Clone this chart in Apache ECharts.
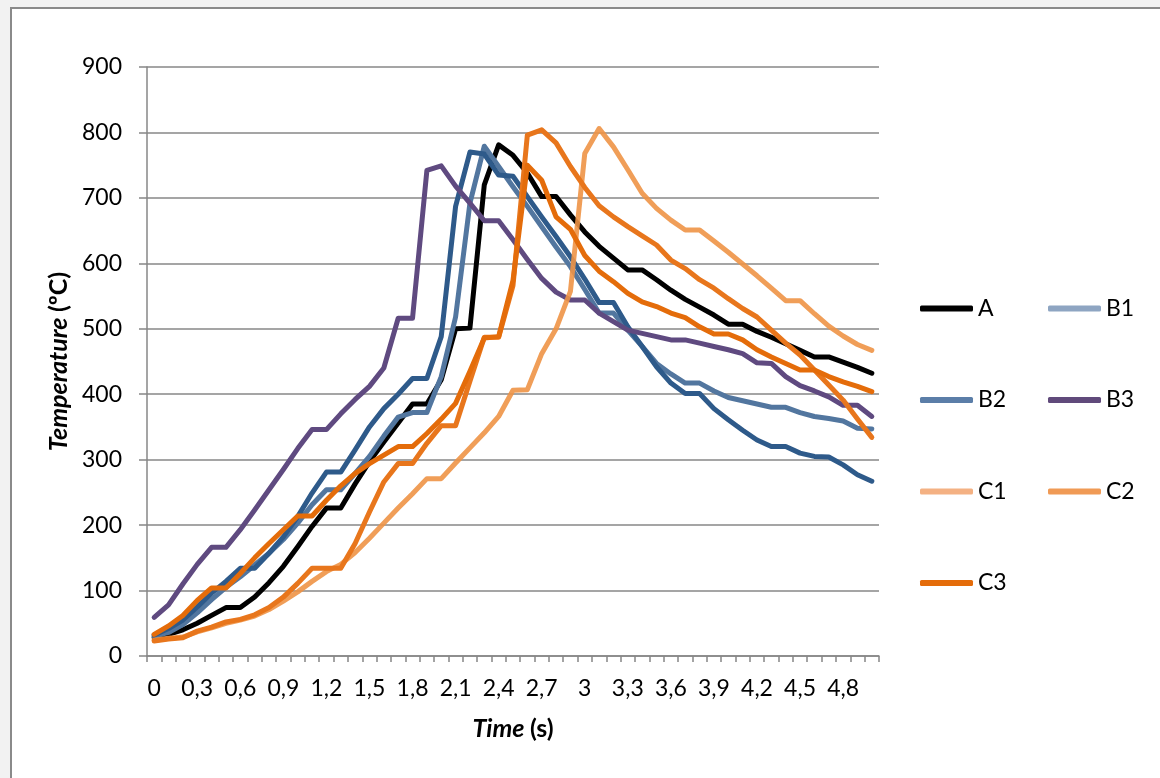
<!DOCTYPE html>
<html>
<head>
<meta charset="utf-8">
<title>Temperature vs time</title>
<script src="https://cdn.jsdelivr.net/npm/echarts@6/dist/echarts.min.js"></script>
<style>
  html, body { margin: 0; padding: 0; background: #f2f2f2; }
  body { width: 1160px; height: 778px; overflow: hidden; position: relative; }
  #frame { position: absolute; left: 10px; top: 7px; width: 1200px; height: 820px;
           background: #ffffff; border: 2px solid #8a8a8a; box-sizing: border-box; }
  #chart { position: absolute; left: 0; top: 0; width: 1160px; height: 778px; }
</style>
</head>
<body>
<div id="frame"></div>
<div id="chart"></div>
<script>
// Time axis categories (s)
const times = [
  '0', '0,1', '0,2', '0,3', '0,4', '0,5', '0,6', '0,7', '0,8', '0,9',
  '1', '1,1', '1,2', '1,3', '1,4', '1,5', '1,6', '1,7', '1,8', '1,9',
  '2', '2,1', '2,2', '2,3', '2,4', '2,5', '2,6', '2,7', '2,8', '2,9',
  '3', '3,1', '3,2', '3,3', '3,4', '3,5', '3,6', '3,7', '3,8', '3,9',
  '4', '4,1', '4,2', '4,3', '4,4', '4,5', '4,6', '4,7', '4,8', '4,9', '5'
];

// Temperatures (ºC) for each specimen
const seriesA = [28, 33, 40, 50, 62, 74, 74, 90, 112, 137, 167, 198, 226, 226, 263, 297, 327, 356, 385, 385,
  422, 500, 501, 720, 781, 765, 738, 702, 702, 674, 648, 626, 608, 590, 590, 575, 559, 545, 533, 521,
  507, 507, 496, 487, 477, 467, 457, 457, 449, 441, 432];
const seriesB1 = [30, 36, 48, 66, 86, 105, 121, 139, 157, 178, 203, 231, 254, 254, 279, 305, 336, 365, 372, 372,
  427, 518, 692, 779, 748, 717, 687, 656, 625, 595, 560, 524, 524, 498, 473, 447, 431, 417, 417, 405,
  395, 390, 385, 380, 380, 372, 366, 363, 359, 348, 347];
const seriesB2 = [32, 42, 55, 75, 96, 114, 134, 134, 157, 182, 213, 249, 281, 281, 315, 350, 378, 400, 424, 424,
  488, 687, 770, 767, 735, 733, 702, 671, 641, 610, 576, 540, 540, 503, 473, 442, 417, 401, 401, 378,
  361, 345, 330, 320, 320, 310, 305, 304, 292, 277, 267];
const seriesB3 = [59, 78, 110, 140, 166, 166, 193, 223, 254, 285, 317, 346, 346, 370, 392, 412, 440, 516, 516, 742,
  749, 718, 692, 665, 665, 636, 606, 577, 556, 544, 544, 524, 511, 498, 493, 488, 483, 483, 478, 473,
  468, 462, 448, 447, 427, 413, 405, 396, 383, 383, 366];
const seriesC1 = [24, 27, 29, 37, 43, 50, 55, 61, 71, 84, 98, 114, 129, 140, 158, 180, 203, 226, 248, 271,
  271, 295, 318, 341, 366, 406, 407, 462, 500, 557, 768, 806, 778, 743, 707, 684, 666, 651, 651, 634,
  617, 599, 581, 562, 543, 543, 523, 504, 489, 476, 467];
const seriesC2 = [23, 26, 28, 38, 44, 52, 56, 63, 74, 90, 111, 134, 134, 134, 172, 220, 266, 294, 294, 325,
  352, 352, 420, 487, 487, 566, 796, 804, 784, 748, 716, 688, 671, 656, 642, 628, 605, 592, 575, 562,
  546, 531, 518, 498, 478, 460, 437, 414, 391, 362, 334];
const seriesC3 = [33, 46, 62, 85, 104, 104, 126, 150, 172, 193, 214, 214, 238, 260, 279, 294, 307, 320, 320, 340,
  362, 386, 435, 486, 488, 574, 750, 727, 671, 652, 612, 588, 572, 554, 541, 534, 524, 517, 503, 492,
  492, 483, 468, 457, 447, 437, 437, 427, 419, 412, 404];

const names = ['A', 'B1', 'B2', 'B3', 'C1', 'C2', 'C3'];
const values = [seriesA, seriesB1, seriesB2, seriesB3, seriesC1, seriesC2, seriesC3];
// line colours in the plot and the lighter swatches in the key
const lineColors = ['#000000', '#52769f', '#2e5a8a', '#5f4a80', '#ee9446', '#e8761c', '#e46c0a'];
const keyColors = ['#000000', '#8ea5c2', '#5b7ea8', '#604a7b', '#f4b183', '#f09a55', '#e46c0a'];

const FONT = 'Lato, "Open Sans", sans-serif';
const GRID_GRAY = '#878787';
const titleRich = {
  i: { fontFamily: FONT, fontSize: 25, fontWeight: 'bold', fontStyle: 'italic', color: '#000' },
  b: { fontFamily: FONT, fontSize: 25, fontWeight: 'bold', color: '#000' }
};

const chart = echarts.init(document.getElementById('chart'), null, { renderer: 'canvas' });

function legendCol(list, left) {
  return {
    orient: 'vertical',
    left: left,
    top: 291,
    itemGap: 66.5,
    itemWidth: 53,
    itemHeight: 6,
    icon: 'roundRect',
    selectedMode: false,
    textStyle: { fontFamily: FONT, fontSize: 23, color: '#000', lineHeight: 25 },
    data: list.map(n => ({ name: n, itemStyle: { color: keyColors[names.indexOf(n)] } }))
  };
}

chart.setOption({
  animation: false,
  backgroundColor: 'transparent',
  grid: { left: 147, right: 281, top: 67, bottom: 122, containLabel: false },
  legend: [
    legendCol(['A', 'B2', 'C1', 'C3'], 915),
    legendCol(['B1', 'B3', 'C2'], 1043)
  ],
  xAxis: {
    type: 'category',
    data: times,
    boundaryGap: true,
    name: '{i|Time }{b|(s)}',
    nameLocation: 'middle',
    nameGap: 60,
    nameTextStyle: { rich: titleRich },
    axisLine: { lineStyle: { color: GRID_GRAY, width: 1.5 } },
    axisTick: { show: true, interval: 0, alignWithLabel: false, length: 6,
      lineStyle: { color: GRID_GRAY, width: 1.5 } },
    axisLabel: { interval: 2, fontFamily: FONT, fontSize: 23, color: '#000', margin: 21 },
    splitLine: { show: false }
  },
  yAxis: {
    type: 'value',
    min: 0,
    max: 900,
    interval: 100,
    name: '{i|Temperature }{b|(ºC)}',
    nameLocation: 'middle',
    nameRotate: 90,
    nameGap: 74,
    nameTextStyle: { rich: titleRich },
    axisLine: { show: true, lineStyle: { color: GRID_GRAY, width: 1.5 } },
    axisTick: { show: true, length: 8, lineStyle: { color: GRID_GRAY, width: 1.5 } },
    axisLabel: { fontFamily: FONT, fontSize: 23, color: '#000', margin: 25 },
    splitLine: { show: true, lineStyle: { color: GRID_GRAY, width: 1.5 } }
  },
  series: names.map((n, k) => ({
    name: n,
    type: 'line',
    data: values[k],
    symbol: 'none',
    smooth: false,
    color: lineColors[k],
    lineStyle: { color: lineColors[k], width: 5, cap: 'round', join: 'round',
      opacity: k === 4 ? 0.9 : 1 }
  }))
});
</script>
</body>
</html>
